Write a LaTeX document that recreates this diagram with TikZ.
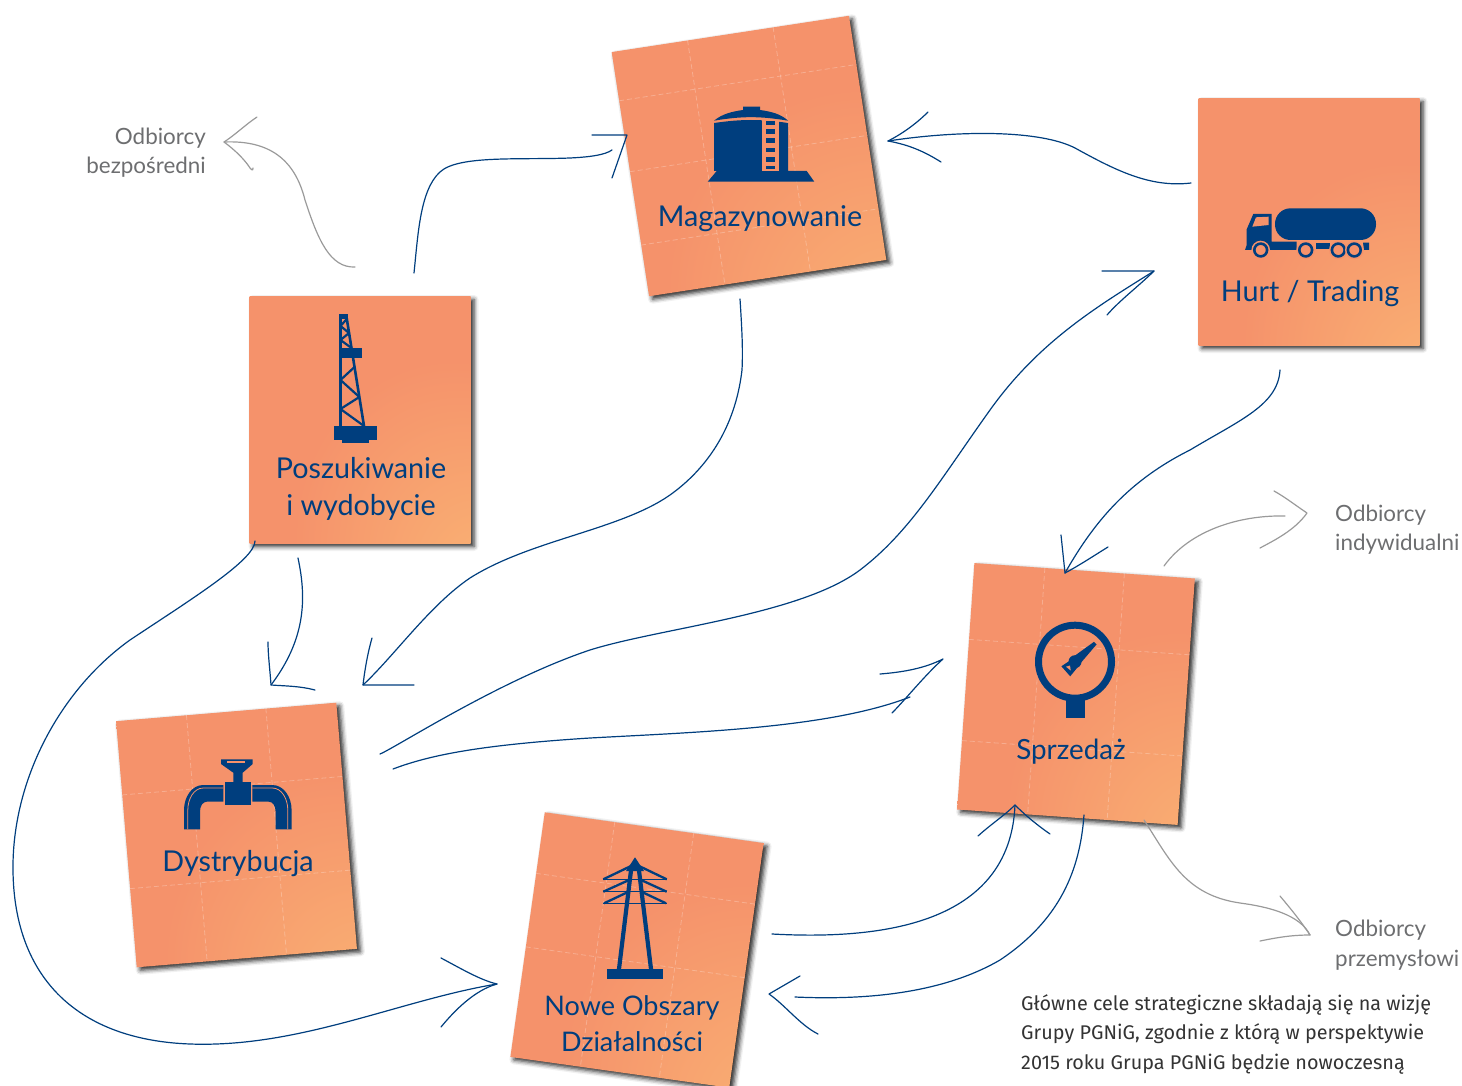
\documentclass[tikz,border=0pt]{standalone}
\usepackage{fontspec}
\setmainfont{Lato}
\newfontfamily\paraFont{Fira Sans}
\usetikzlibrary{calc,shadows.blur}
\definecolor{navyInk}{HTML}{003E7E}
\definecolor{paperDark}{HTML}{F5926B}
\definecolor{paperLight}{HTML}{F9AC72}
\definecolor{greyInk}{HTML}{6D6E70}
\definecolor{greyPen}{HTML}{9A9A9A}
\definecolor{bodyInk}{HTML}{333333}
\pgfdeclareradialshading{paperGlow}{\pgfpoint{30bp}{-34bp}}{
  color(0bp)=(paperLight);
  color(8bp)=(paperLight);
  color(36bp)=(paperDark);
  color(120bp)=(paperDark)}
\tikzset{
  paper/.style={minimum width=#1, minimum height=247, inner sep=0, shading=paperGlow,
    blur shadow={shadow xshift=3.5pt, shadow yshift=-3pt, shadow blur radius=4.5pt, shadow opacity=85}},
  paper/.default=221,
  paperText/.style={text=navyInk, font=\fontsize{28.7}{37}\selectfont, align=center, inner sep=0},
  noteText/.style={text=greyInk, font=\fontsize{22.4}{29.5}\selectfont, inner sep=0},
  bodyText/.style={text=bodyInk, font=\paraFont\fontsize{19.8}{29.5}\selectfont, anchor=north west, inner sep=0, align=left},
  pen/.style={draw=navyInk, line width=1.2pt, line cap=round, line join=round},
  greyLine/.style={draw=greyPen, line width=1.2pt, line cap=round, line join=round},
  fold/.style={draw=white, opacity=.25, line width=.8pt, dash pattern=on 5pt off 3pt},
  icon/.style={fill=navyInk, draw=none},
  iconCut/.style={fill=paperDark, draw=none}
}
\begin{document}
\begin{tikzpicture}[x=1pt,y=-1pt]
   \newcommand{\foldLines}[2]{
     \foreach \c in {.32,.68}
       \draw[fold] ($(#1.north west)!\c!(#1.north east)$) -- ($(#1.south west)!\c!(#1.south east)$);
     \foreach \r in {#2}
       \draw[fold] ($(#1.north west)!\r!(#1.south west)$) -- ($(#1.north east)!\r!(#1.south east)$);
   }
   \useasboundingbox (0,0) rectangle (1462,1086);
   \clip (0,0) rectangle (1462,1086);

   \node[paper] (poszukiwanie) at (360,420) {};
   \node[paper=240, rotate=8.7] (magazyn) at (749,156) {};
   \node[paper] (hurt) at (1309,222) {};
   \node[paper, rotate=4.8] (dystrybucja) at (236.5,835) {};
   \node[paper, rotate=-4] (sprzedaz) at (1076,694) {};
   \node[paper, rotate=-8] (nowe) at (637,950) {};

   \foldLines{magazyn}{.2,.49,.79}
   \foldLines{dystrybucja}{.3,.68}
   \foldLines{sprzedaz}{.31,.72}
   \foldLines{nowe}{.25,.55}

   % tank
   \fill[icon] (707.7,181.7) -- (814.3,181.7) -- (806.7,171) -- (788,171) -- (788,123) .. controls (760,119) and (742,119) .. (714,123) -- (714,171) -- (716.7,171) -- cycle;
   \fill[icon] (714,120.7) .. controls (722,114) and (732,111.5) .. (743,110) -- (743,106.7) -- (760,106.7) -- (760,110) .. controls (771,111.5) and (781,114) .. (788,120.7) .. controls (760,116) and (742,116) .. (714,120.7) -- cycle;
   \fill[iconCut] (761.7,120) rectangle (779.3,171);
   \foreach \ya/\yb in {121/125,129.5/134,138.5/143.5,148/152.5,157/162,166/169}
     \fill[icon] (765.7,\ya) rectangle (775,\yb);

   % derrick
   \fill[icon] (334,425.7) rectangle (376.7,440);
   \fill[icon] (341.7,440) rectangle (369,442.7);
   \fill[icon] (338.7,314.3) rectangle (348.3,319.3);
   \fill[icon] (338.7,347.7) rectangle (361.7,357.7);
   \draw[navyInk, line width=2.6pt] (340.5,426) -- (340.5,317) (364,426) -- (346.5,317);
   \foreach \yl/\yr in {380/367,380/397,409/397,409/426,326/319,326/333,340/333,340/348}
     \draw[navyInk, line width=2.2pt] (340.5,\yl) -- ({364-(426-\yr)*17.5/109},\yr);

   % truck
   \fill[icon, rounded corners=15.5pt] (1275,208.3) rectangle (1376,240);
   \fill[icon] (1253.3,214) -- (1271.7,214) -- (1271.7,241.7) -- (1296.7,241.7) -- (1296.7,250) -- (1245,250) -- (1246.7,245) -- (1246.7,229.3) -- cycle;
   \fill[iconCut] (1256,217.3) -- (1268.7,216.7) -- (1268.7,225) -- (1252.3,226.7) -- cycle;
   \fill[icon] (1316,242.7) rectangle (1330,249);
   \fill[icon] (1363,242.7) -- (1369,242.7) -- (1369,250) -- (1364,250) -- cycle;
   \foreach \wx in {1260.7,1305.7,1338.3,1354.3} {
     \fill[iconCut] (\wx,250) circle (9.3);
     \draw[navyInk, line width=2.6pt] (\wx,250) circle (6.4);
   }

   % gauge
   \draw[navyInk, line width=7pt] (1075,661.7) circle (36.5);
   \fill[icon] (1065.7,699) rectangle (1085,718.3);
   \fill[icon] (1075,661.7) circle (6.5);
   \fill[icon] (1094,641.8) -- (1096.5,644.5) -- (1079,665) -- (1073,657) -- cycle;
   \fill[icon] (1070,660.5) -- (1061.4,666.3) -- (1070.2,676.3) -- (1077,668) -- cycle;
   \fill[iconCut] (1066,666.7) -- (1070,665.5) -- (1070.7,670.5) -- cycle;

   % valve
   \fill[icon] (221,759.3) -- (252.7,759.3) -- (252.7,764) -- (242.7,772.7) -- (242.7,782.3) -- (233.3,782.3) -- (233.3,772.7) -- (221,764) -- cycle;
   \fill[iconCut] (226.7,761) rectangle (245,763);
   \fill[icon] (225,782.3) rectangle (250.7,805);
   \foreach \s in {1,-1} {
     \begin{scope}[shift={(237.8,0)}, xscale=\s]
       \fill[icon] (-14.5,785) -- (-34.5,785) .. controls (-46,785) and (-53.8,797) .. (-53.8,810) -- (-53.8,829.3) -- (-37.8,829.3) -- (-37.8,811.7) .. controls (-37.8,806) and (-35,801.7) .. (-31,801.7) -- (-14.5,801.7) -- cycle;
       \draw[paperDark, line width=.8pt] (-14.5,788) -- (-34.5,788) .. controls (-44,788) and (-50,799) .. (-50,810) -- (-50,829);
     \end{scope}
   }

   % pylon
   \fill[icon] (607.3,969) rectangle (662.7,979.3);
   \draw[navyInk, line width=4.2pt] (619,969) -- (631.3,868) (651,969) -- (638.7,868);
   \fill[icon] (635,857.3) -- (626,871) -- (644,871) -- cycle;
   \foreach \s in {1,-1} {
     \draw[navyInk, line width=2.3pt] ({635-\s*31.7},879.3) -- ({635-\s*3},865.5);
     \draw[navyInk, line width=2.3pt] ({635-\s*31.7},891.7) -- ({635-\s*6},880);
     \draw[navyInk, line width=2.3pt] ({635-\s*31},903.3) -- ({635-\s*7},892);
   }
   \foreach \py in {879.3,891.7,903.3}
     \draw[navyInk, line width=1.5pt] (603.3,\py) -- (666.7,\py);

   \node[paperText] (magazynLabel) at (760,219) {Magazynowanie};
   \node[paperText] (hurtLabel) at (1310,294) {Hurt / Trading};
   \node[paperText] (poszukiwanieLabel) at (361,488.5) {Poszukiwanie\\i wydobycie};
   \node[paperText] (dystrybucjaLabel) at (238,864) {Dystrybucja};
   \node[paperText, font=\fontsize{27.8}{37}\selectfont] (sprzedazLabel) at (1071,752) {Sprzedaż};
   \node[paperText, font=\fontsize{27}{36.5}\selectfont] (noweLabel) at (632,1023.5) {Nowe Obszary\\Działalności};

   \node[noteText, anchor=east, align=right] (bezposredni) at (206,152.5) {Odbiorcy\\bezpośredni};
   \node[noteText, anchor=west, align=left] (indywidualni) at (1335,529.5) {Odbiorcy\\indywidualni};
   \node[noteText, anchor=west, align=left] (przemyslowi) at (1335,945) {Odbiorcy\\przemysłowi};
   \node[bodyText] (cele) at (1021,994) {Główne cele strategiczne składają się na wizję\\Grupy PGNiG, zgodnie z którą w perspektywie\\2015 roku Grupa PGNiG będzie nowoczesną};

   \coordinate (magIn) at (627,135);
   \coordinate (magEast) at (888,141);
   \coordinate (dystIn) at (363,685);
   \coordinate (dystTop) at (271,685);
   \coordinate (hurtIn) at (1154,271);
   \coordinate (sprzIn) at (1065,573);
   \coordinate (sprzWest) at (943,659);
   \coordinate (sprzBottom) at (1015,805);
   \coordinate (noweIn) at (497,984);
   \coordinate (noweEast) at (769,994);
   \coordinate (bezIn) at (224,142);
   \coordinate (indIn) at (1307,513);
   \coordinate (przIn) at (1310,935);

   \draw[pen] (414,273) .. controls (418,235) and (420,190) .. (440,172) .. controls (458,155) and (520,160) .. (570,158) .. controls (590,157) and (605,155) .. (612,150);
   \draw[pen] (magIn) -- (592,135) (magIn) -- (612,178);

   \draw[pen] (1191,183) .. controls (1150,188) and (1115,170) .. (1075,148) .. controls (1040,130) and (960,130) .. (magEast);
   \draw[pen] (magEast) .. controls (900,135) and (915,125) .. (928,112) (magEast) .. controls (910,145) and (925,152) .. (941,162);

   \draw[pen] (740,299) .. controls (742,330) and (743,350) .. (742,370) .. controls (735,430) and (705,470) .. (670,495) .. controls (620,530) and (530,540) .. (470,578) .. controls (430,605) and (395,655) .. (dystIn);
   \draw[pen] (dystIn) .. controls (365,668) and (368,652) .. (372,638) (dystIn) -- (414,685);

   \draw[pen] (1280,370) .. controls (1278,405) and (1240,420) .. (1190,450) .. controls (1130,480) and (1095,520) .. (sprzIn);
   \draw[pen] (sprzIn) -- (1061,535) (sprzIn) .. controls (1080,565) and (1095,555) .. (1108,547);

   \draw[pen] (380,754) .. controls (395,748) and (500,680) .. (590,650) .. controls (660,628) and (800,615) .. (860,570) .. controls (910,532) and (940,480) .. (990,410) .. controls (1040,340) and (1100,305) .. (hurtIn);
   \draw[pen] (hurtIn) -- (1102,271) (hurtIn) .. controls (1140,285) and (1120,300) .. (1107,315);

   \draw[pen] (393,769) .. controls (430,755) and (480,745) .. (590,738) .. controls (700,732) and (830,728) .. (910,697);
   \draw[pen] (sprzWest) .. controls (925,668) and (905,672) .. (880,674) (sprzWest) .. controls (925,675) and (905,700) .. (892,713);

   \draw[pen] (298,558) .. controls (307,600) and (305,640) .. (dystTop);
   \draw[pen] (dystTop) .. controls (270,670) and (268,655) .. (268,642) (dystTop) .. controls (285,686) and (300,686) .. (315,690);

   \draw[pen] (255,541) .. controls (255,560) and (190,600) .. (130,640) .. controls (60,690) and (12,780) .. (13,870) .. controls (14,980) and (80,1040) .. (190,1044) .. controls (300,1048) and (400,1000) .. (noweIn);
   \draw[pen] (noweIn) .. controls (480,980) and (460,968) .. (441,958) (noweIn) .. controls (475,990) and (455,1010) .. (441,1027);

   \draw[pen] (772,934) .. controls (880,940) and (1010,925) .. (sprzBottom);
   \draw[pen] (sprzBottom) .. controls (1005,815) and (990,825) .. (978,836) (sprzBottom) .. controls (1025,815) and (1037,825) .. (1050,834);

   \draw[pen] (1084,815) .. controls (1080,870) and (1060,920) .. (1000,960) .. controls (940,995) and (860,1000) .. (795,997);
   \draw[pen] (noweEast) -- (800,976) (noweEast) .. controls (785,1005) and (800,1025) .. (818,1034);

   \draw[greyLine] (355,267) .. controls (330,268) and (318,240) .. (305,200) .. controls (295,160) and (270,140) .. (bezIn);
   \draw[greyLine] (bezIn) .. controls (235,135) and (245,125) .. (257,117) (bezIn) .. controls (235,150) and (245,160) .. (250,168) .. controls (252,171) and (254,170) .. (253,168);

   \draw[greyLine] (1164,566) .. controls (1190,530) and (1240,515) .. (1285,516);
   \draw[greyLine] (indIn) .. controls (1295,505) and (1285,497) .. (1274,491) (indIn) .. controls (1295,530) and (1275,540) .. (1260,548);

   \draw[greyLine] (1144,820) .. controls (1170,860) and (1185,895) .. (1240,903) .. controls (1270,907) and (1300,915) .. (przIn);
   \draw[greyLine] (przIn) .. controls (1300,920) and (1290,908) .. (1280,896) (przIn) .. controls (1290,935) and (1275,938) .. (1260,941);
\end{tikzpicture}
\end{document}
